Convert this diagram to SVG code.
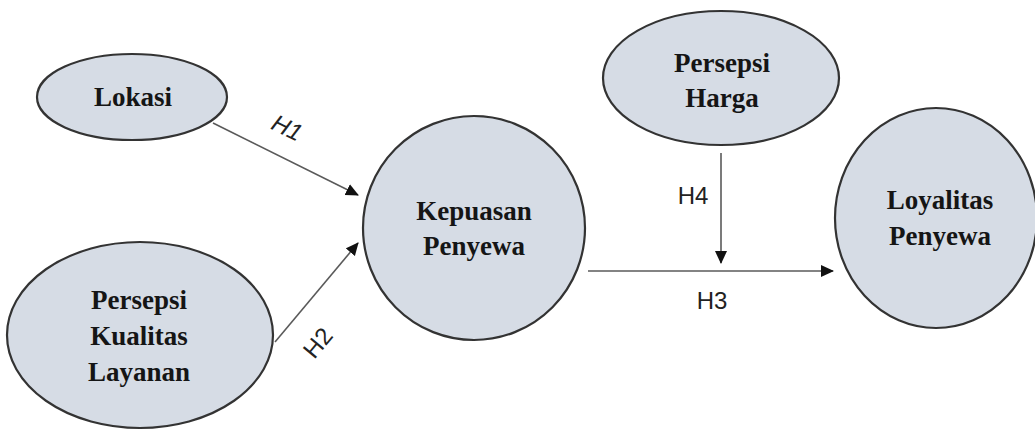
<svg xmlns="http://www.w3.org/2000/svg" width="1035" height="430" viewBox="0 0 1035 430">
<style>
.node{fill:#d6dce5;stroke:#333;stroke-width:2.2}
.lbl{font-family:"Liberation Serif","Times New Roman",serif;font-weight:bold;font-size:27px;fill:#151515;text-anchor:middle}
.edge{stroke:#5a5a5a;stroke-width:1.6;fill:none;marker-end:url(#ah)}
.h{font-family:"Liberation Sans",Arial,sans-serif;font-size:24px;fill:#222;text-anchor:middle}
</style>
<defs>
<marker id="ah" markerWidth="13" markerHeight="13" refX="12" refY="6.5" orient="auto" markerUnits="userSpaceOnUse" viewBox="0 0 13 13">
<path d="M0,0.5 L13,6.5 L0,12.5 z" fill="#111"/>
</marker>
</defs>
<rect width="1035" height="430" fill="#fff"/>
<g id="connectors">
<line class="edge" x1="213" y1="123" x2="358" y2="195"/>
<line class="edge" x1="275" y1="342" x2="358" y2="243"/>
<line class="edge" x1="588" y1="271" x2="833" y2="271"/>
<line class="edge" x1="721" y1="153" x2="721" y2="263"/>
<text class="h" x="287" y="136" transform="rotate(26 287 128)" font-style="italic">H1</text>
<text class="h" x="318" y="351" transform="rotate(-50 318 343)">H2</text>
<text class="h" x="712" y="309">H3</text>
<text class="h" x="693" y="204">H4</text>
</g>
<g id="lokasi">
<ellipse class="node" cx="132" cy="97" rx="95" ry="43"/>
<text class="lbl" x="133" y="106">Lokasi</text>
</g>
<g id="persepsi-kualitas-layanan">
<ellipse class="node" cx="140" cy="335" rx="133" ry="93"/>
<text class="lbl" x="139" y="309">Persepsi</text>
<text class="lbl" x="139" y="345">Kualitas</text>
<text class="lbl" x="139" y="381">Layanan</text>
</g>
<g id="kepuasan-penyewa">
<ellipse class="node" cx="474" cy="228" rx="111" ry="112"/>
<text class="lbl" x="474" y="220">Kepuasan</text>
<text class="lbl" x="474" y="255">Penyewa</text>
</g>
<g id="persepsi-harga">
<ellipse class="node" cx="721" cy="78" rx="118" ry="67"/>
<text class="lbl" x="722" y="72">Persepsi</text>
<text class="lbl" x="722" y="107">Harga</text>
</g>
<g id="loyalitas-penyewa">
<ellipse class="node" cx="936" cy="218" rx="101" ry="110"/>
<text class="lbl" x="940" y="209">Loyalitas</text>
<text class="lbl" x="940" y="245">Penyewa</text>
</g>
</svg>
